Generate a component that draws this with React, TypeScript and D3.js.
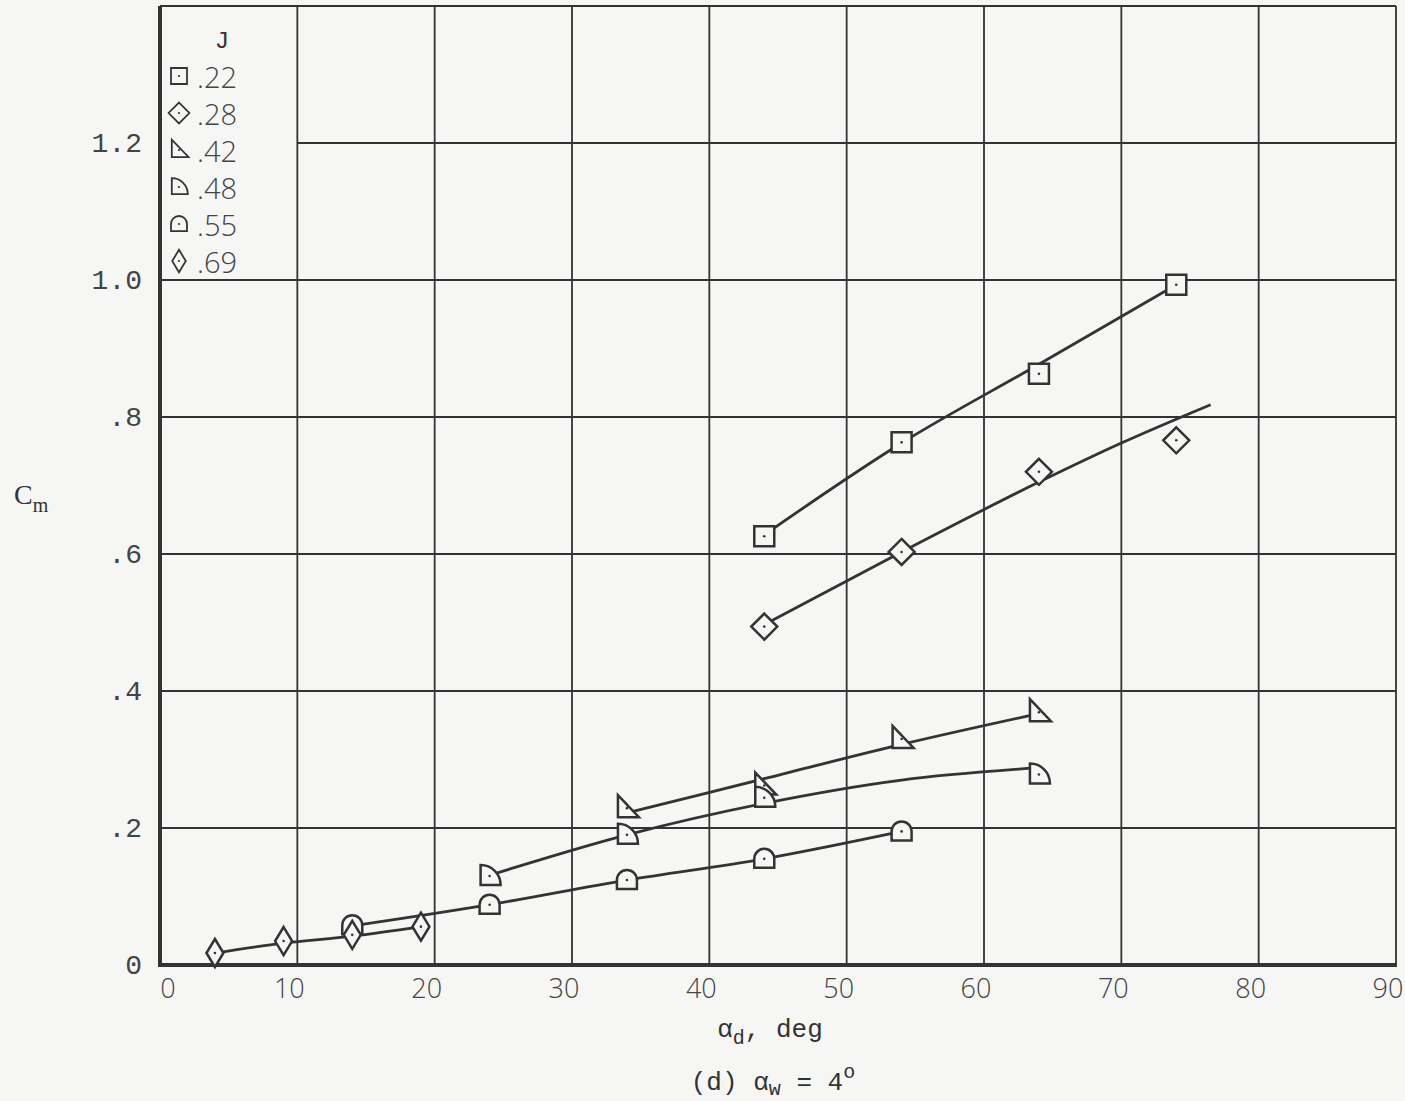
import React, { useEffect, useRef } from 'react';
import * as d3 from 'd3';

// J values and marker kinds
const jLabels = ['.22', '.28', '.42', '.48', '.55', '.69'];
const shapes = ['square', 'diamond', 'triangle', 'quarter', 'dome', 'tallDiamond'];

// test points, alpha_d (deg) and Cm
const alpha22 = [44, 54, 64, 74];
const cm22 = [0.626, 0.763, 0.863, 0.993];
const alpha28 = [44, 54, 64, 74];
const cm28 = [0.494, 0.603, 0.72, 0.766];
const alpha42 = [34, 44, 54, 64];
const cm42 = [0.229, 0.262, 0.33, 0.369];
const alpha48 = [24, 34, 44, 64];
const cm48 = [0.13, 0.19, 0.244, 0.278];
const alpha55 = [14, 24, 34, 44, 54];
const cm55 = [0.058, 0.088, 0.124, 0.155, 0.195];
const alpha69 = [4, 9, 14, 19];
const cm69 = [0.0175, 0.035, 0.044, 0.056];

// faired curves as drawn
const fair22A = [44, 54, 64, 74];
const fair22C = [0.628, 0.762, 0.877, 0.993];
const fair28A = [44, 54, 64, 70, 76.5];
const fair28C = [0.497, 0.603, 0.705, 0.762, 0.818];
const fair42A = [34, 44, 54, 64];
const fair42C = [0.222, 0.272, 0.322, 0.367];
const fair48A = [24, 34, 44, 54, 64];
const fair48C = [0.131, 0.19, 0.236, 0.27, 0.288];
const fair55A = [14, 24, 34, 44, 54];
const fair55C = [0.057, 0.088, 0.124, 0.155, 0.195];
const fair69A = [4, 9, 14, 19];
const fair69C = [0.0175, 0.032, 0.042, 0.056];

const xTicks = [0, 10, 20, 30, 40, 50, 60, 70, 80, 90];
const yTicks = [0, 0.2, 0.4, 0.6, 0.8, 1.0, 1.2];
const yTickLabels = ['0', '.2', '.4', '.6', '.8', '1.0', '1.2'];

const ink = '#333';
const paper = '#f6f6f4';

function markerPath(kind) {
  switch (kind) {
    case 'square': return 'M-10,-10H10V10H-10Z';
    case 'diamond': return 'M0,-13L13,0L0,13L-13,0Z';
    case 'triangle': return 'M-9,-13L-9,9L12,9Z';
    case 'quarter': return 'M-9,9V-11A20,20 0 0 1 11,9Z';
    case 'dome': return 'M-10,9V0A10,10 0 0 1 10,0V9Z';
    default: return 'M0,-14L8.5,0L0,14L-8.5,0Z';
  }
}

export default function App() {
  const ref = useRef(null);

  useEffect(() => {
    const svg = d3.select(ref.current);
    svg.selectAll('*').remove();

    const x = d3.scaleLinear().domain([0, 90]).range([160, 1396]);
    const y = d3.scaleLinear().domain([0, 1.4]).range([965, 6]);

    svg.append('rect').attr('width', 1405).attr('height', 1101).attr('fill', paper);

    const grid = svg.append('g').attr('stroke', ink).attr('stroke-width', 1.8);
    // vertical grid lines
    xTicks.slice(1).forEach(function (t) {
      grid.append('line').attr('x1', x(t)).attr('x2', x(t)).attr('y1', y(1.4)).attr('y2', y(0));
    });
    // horizontal, the 1.2 line stops at the legend box
    yTicks.slice(1).concat([1.4]).forEach(function (t) {
      const x0 = t === 1.2 ? x(10) : x(0);
      grid.append('line').attr('x1', x0).attr('x2', x(90)).attr('y1', y(t)).attr('y2', y(t));
    });

    // heavy axes
    svg.append('line').attr('x1', x(0)).attr('x2', x(0)).attr('y1', y(1.4)).attr('y2', y(0) + 2)
      .attr('stroke', ink).attr('stroke-width', 4);
    svg.append('line').attr('x1', x(0) - 2).attr('x2', x(90) + 1).attr('y1', y(0)).attr('y2', y(0))
      .attr('stroke', ink).attr('stroke-width', 4);

    // tick labels
    svg.append('g').selectAll('text').data(yTicks).enter().append('text')
      .attr('x', 142).attr('y', function (d) { return y(d) + 9; })
      .attr('text-anchor', 'end')
      .attr('font-family', 'Liberation Mono').attr('font-size', 28).attr('fill', '#444')
      .text(function (d, i) { return yTickLabels[i]; });

    svg.append('g').selectAll('text').data(xTicks).enter().append('text')
      .attr('x', function (d) { return d === 0 ? x(d) + 8 : x(d) - 8; })
      .attr('y', 998)
      .attr('text-anchor', 'middle')
      .attr('font-family', 'Open Sans').attr('font-weight', 300).attr('font-size', 27).attr('fill', '#444')
      .text(function (d) { return d; });

    // faired curves
    const line = d3.line().x(function (d) { return x(d[0]); }).y(function (d) { return y(d[1]); })
      .curve(d3.curveMonotoneX);
    const curves = [
      [fair22A, fair22C], [fair28A, fair28C], [fair42A, fair42C],
      [fair48A, fair48C], [fair55A, fair55C], [fair69A, fair69C]
    ];
    curves.forEach(function (c) {
      svg.append('path').datum(d3.zip(c[0], c[1])).attr('d', line)
        .attr('fill', 'none').attr('stroke', ink).attr('stroke-width', 2.8);
    });

    // points
    const sets = [
      [alpha22, cm22], [alpha28, cm28], [alpha42, cm42],
      [alpha48, cm48], [alpha55, cm55], [alpha69, cm69]
    ];
    sets.forEach(function (s, k) {
      const g = svg.append('g').selectAll('g').data(d3.zip(s[0], s[1])).enter().append('g')
        .attr('transform', function (d) { return 'translate(' + x(d[0]) + ',' + y(d[1]) + ')'; });
      g.append('path').attr('d', markerPath(shapes[k]))
        .attr('fill', paper).attr('stroke', ink).attr('stroke-width', 2.5).attr('stroke-linejoin', 'miter');
      g.append('circle').attr('r', 1.3).attr('fill', ink);
    });

    // legend
    const legend = svg.append('g');
    legend.append('text').attr('x', 222).attr('y', 48).attr('text-anchor', 'middle')
      .attr('font-family', 'Liberation Mono').attr('font-size', 24).attr('fill', '#333').text('J');
    jLabels.forEach(function (lab, i) {
      const cy = 76 + i * 37;
      const m = legend.append('g').attr('transform', 'translate(179,' + cy + ') scale(0.8)');
      m.append('path').attr('d', markerPath(shapes[i]))
        .attr('fill', paper).attr('stroke', ink).attr('stroke-width', 2.2);
      m.append('circle').attr('r', 1.4).attr('fill', ink);
      legend.append('text').attr('x', 197).attr('y', cy + 12)
        .attr('font-family', 'Open Sans').attr('font-weight', 300).attr('font-size', 29).attr('fill', '#444')
        .text(lab);
    });

    // axis titles
    const xt = svg.append('text').attr('x', 770).attr('y', 1037).attr('text-anchor', 'middle')
      .attr('font-family', 'Liberation Mono').attr('font-size', 26).attr('fill', '#333');
    xt.append('tspan').text('α');
    xt.append('tspan').attr('dy', 7).attr('font-size', 20).text('d');
    xt.append('tspan').attr('dy', -7).text(', deg');

    const cap = svg.append('text').attr('x', 773).attr('y', 1090).attr('text-anchor', 'middle')
      .attr('font-family', 'Liberation Mono').attr('font-size', 26).attr('fill', '#333');
    cap.append('tspan').text('(d) α');
    cap.append('tspan').attr('dy', 5).attr('font-size', 20).text('w');
    cap.append('tspan').attr('dy', -5).text(' = 4');
    cap.append('tspan').attr('dy', -12).attr('font-size', 20).text('o');

    const yt = svg.append('text').attr('x', 14).attr('y', 504)
      .attr('font-family', 'Liberation Serif').attr('font-size', 28).attr('fill', '#333');
    yt.append('tspan').text('C');
    yt.append('tspan').attr('dy', 8).attr('font-size', 20).text('m');
  }, []);

  return (
    <svg ref={ref} width={1405} height={1101} style={{ position: 'absolute', left: 0, top: 0 }} />
  );
}
